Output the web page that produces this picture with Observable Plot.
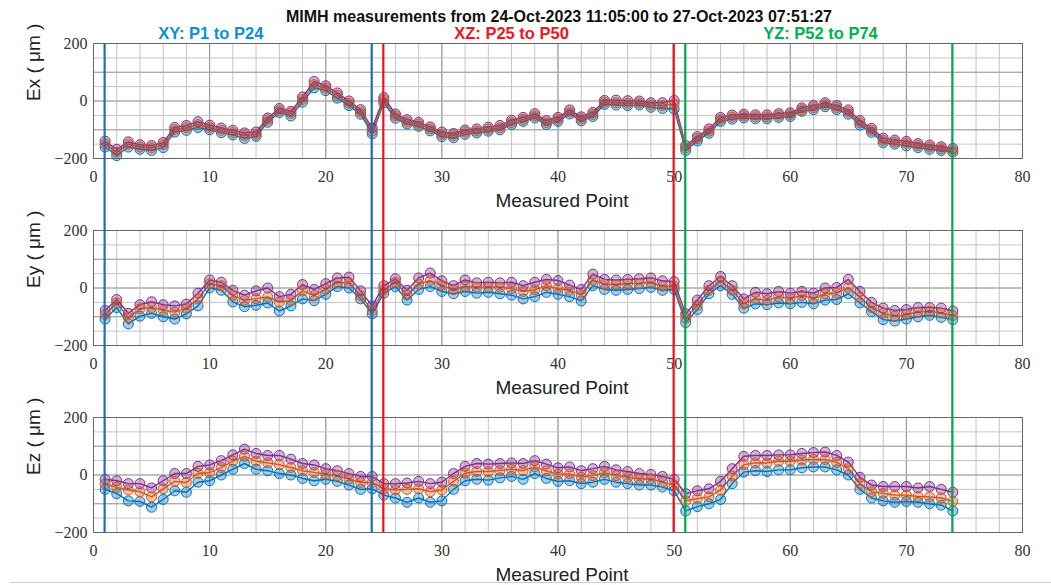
<!DOCTYPE html>
<html><head><meta charset="utf-8">
<script src="https://cdn.jsdelivr.net/npm/d3@7"></script>
<script src="https://cdn.jsdelivr.net/npm/@observablehq/plot@0.6"></script>
<style>
body{margin:0;background:#fff;}
#wrap{position:relative;width:1051px;height:585px;overflow:hidden;background:#fff;}
#title{position:absolute;top:7px;left:559px;transform:translateX(-50%);font:bold 16px "Liberation Sans",Arial,sans-serif;white-space:nowrap;color:#111;line-height:20px;z-index:2;}
#edge{position:absolute;left:10px;right:0;top:582px;height:1px;background:#cfcfcf;z-index:2;}
#wrap svg{position:absolute;left:0;top:0;}
#wrap svg g[aria-label="x-axis tick label"], #wrap svg g[aria-label="y-axis tick label"],
#wrap svg g[aria-label="x-axis tick label"] text, #wrap svg g[aria-label="y-axis tick label"] text{
  font-family:"Liberation Serif","DejaVu Serif",serif !important;font-size:16px !important;}
</style></head>
<body><div id="wrap"><div id="title"></div><div id="edge"></div></div>
<script>
// ---------- data ----------
const title = "MIMH measurements from 24-Oct-2023 11:05:00 to 27-Oct-2023 07:51:27";
const panels = ["Ex", "Ey", "Ez"];
const yLabels = ["Ex ( μm )", "Ey ( μm )", "Ez ( μm )"];
const xLabel = "Measured Point";
const xTicks = [0, 10, 20, 30, 40, 50, 60, 70, 80];
const yTicks = [-200, 0, 200];
const regionLabels = ["XY: P1 to P24", "XZ: P25 to P50", "YZ: P52 to P74"];
const regionBounds = [[1, 24], [25, 50], [51, 74]];
const runs = ["run 1", "run 2", "run 3"];

// Ex (µm) per measured point 1..74: low / middle / high edge of the measured band
const exLow = [-160,-190,-160,-168,-172,-162,-108,-102,-92,-100,-110,-118,-130,-123,-74,-40,-52,-4,46,36,10,-16,-46,-114,-6,-60,-80,-88,-104,-124,-128,-116,-111,-105,-100,-82,-71,-59,-82,-71,-45,-69,-54,-12,-14,-16,-14,-22,-26,-28,-172,-139,-112,-71,-63,-59,-62,-62,-57,-54,-36,-30,-20,-30,-46,-84,-109,-145,-150,-156,-162,-168,-172,-178];
const exMid = [-150,-178,-150,-160,-163,-152,-100,-93,-82,-92,-102,-110,-120,-116,-66,-33,-43,5,57,45,20,-8,-38,-105,4,-52,-73,-81,-97,-116,-120,-108,-104,-98,-93,-75,-64,-52,-75,-64,-38,-62,-47,-5,-6,-8,-7,-14,-16,-10,-163,-131,-105,-64,-56,-52,-55,-55,-50,-47,-30,-23,-13,-23,-38,-76,-102,-137,-143,-147,-155,-160,-166,-172];
const exHigh = [-140,-168,-142,-152,-155,-144,-92,-85,-72,-84,-94,-102,-111,-108,-59,-26,-36,14,68,53,28,0,-30,-94,12,-45,-65,-74,-90,-108,-113,-101,-97,-91,-85,-67,-57,-44,-68,-57,-31,-55,-40,2,3,1,0,-6,-6,2,-155,-124,-97,-57,-49,-46,-48,-48,-44,-41,-24,-16,-6,-16,-31,-68,-95,-129,-136,-140,-148,-153,-159,-165];

// Ey (µm)
const eyLow = [-108,-68,-125,-98,-88,-100,-108,-90,-62,0,-8,-48,-65,-60,-52,-80,-62,-38,-44,-22,5,0,-38,-90,-18,5,-42,-5,5,-12,-20,-12,-18,-15,-20,-25,-38,-30,-15,-22,-30,-45,8,-5,-8,-5,-2,2,-8,-5,-120,-75,-20,8,-22,-70,-55,-58,-52,-55,-50,-55,-42,-40,-20,-52,-82,-110,-115,-108,-100,-95,-102,-110];
const eyMid = [-92,-52,-103,-72,-68,-78,-84,-70,-38,15,8,-26,-43,-37,-31,-49,-43,-10,-26,-4,20,17,-26,-78,-6,20,-24,14,26,9,-6,6,3,3,3,-2,-12,-6,8,-2,-8,-24,28,13,12,15,16,20,6,6,-105,-60,-8,24,-8,-55,-37,-43,-30,-37,-26,-36,-20,-18,2,-32,-68,-88,-98,-92,-84,-81,-87,-96];
const eyHigh = [-78,-40,-88,-58,-48,-58,-62,-56,-18,28,20,-8,-25,-10,0,-30,-22,12,-5,15,35,38,-10,-62,8,32,-8,35,52,25,8,28,18,20,18,20,8,20,30,26,10,-5,48,30,28,30,32,35,25,22,-90,-42,8,40,8,-38,-15,-20,-12,-18,-12,-18,0,2,30,-12,-50,-70,-78,-75,-68,-68,-70,-80];

// Ez (µm)
const ezLow = [-50,-65,-90,-92,-112,-85,-55,-60,-25,-20,0,20,40,20,15,5,0,-12,-20,-15,-22,-35,-50,-48,-70,-80,-95,-80,-95,-90,-50,-20,-15,-18,-10,-5,-15,5,-12,-22,-20,-30,-25,-15,-25,-30,-35,-35,-42,-55,-125,-110,-100,-85,-30,10,15,12,18,18,25,28,28,18,0,-50,-80,-90,-95,-92,-95,-100,-105,-125];
const ezMid = [-31,-43,-52,-58,-76,-48,-22,-26,6,8,26,48,65,48,42,36,26,15,9,3,-2,-14,-26,-26,-48,-52,-50,-48,-58,-52,-22,6,12,12,16,20,15,28,14,3,4,-8,-2,8,-2,-8,-14,-14,-24,-36,-90,-82,-76,-52,-4,36,42,42,48,48,52,54,54,44,22,-30,-58,-64,-70,-70,-75,-76,-80,-92];
const ezHigh = [-15,-20,-30,-30,-45,-20,5,5,30,35,50,70,90,75,68,68,55,40,35,22,15,5,-5,-5,-30,-30,-28,-22,-30,-25,5,30,40,38,40,42,40,50,38,25,28,15,22,30,18,12,5,2,-5,-15,-65,-55,-48,-22,22,65,68,68,70,70,75,78,80,68,45,-8,-35,-40,-40,-40,-45,-40,-50,-60];

(function () {
// ---------- styles ----------
const runColors = ["#0072BD", "#7E2F8E", "#D95319"];
const lineColors = ["#1f6fb5", "#e8141c", "#00a84f"];
const labelColors = ["#0b8fd3", "#f0161e", "#00b050"];
const sans = "'Liberation Sans', Arial, Helvetica, sans-serif";
const serif = "'Liberation Serif', 'DejaVu Serif', serif";

// ---------- table ----------
const seriesByPanel = {
  Ex: [exLow, exHigh, exMid],
  Ey: [eyLow, eyHigh, eyMid],
  Ez: [ezLow, ezHigh, ezMid]
};
const rows = [];
for (const p of panels) {
  seriesByPanel[p].forEach((arr, r) => {
    arr.forEach((v, i) => rows.push({panel: p, run: runs[r], point: i + 1, value: v}));
  });
}
const labelRows = panels.map((p, i) => ({panel: p, label: yLabels[i]}));
const regionRows = regionLabels.map((t, i) => ({panel: "Ex", label: t, color: labelColors[i], x: [10.1, 36.0, 62.6][i]}));

document.getElementById("title").textContent = title;

const marginTop = 43, marginBottom = 52, marginLeft = 93, marginRight = 29;

const plot = Plot.plot({
  width: 1051,
  height: 585,
  marginTop, marginBottom, marginLeft, marginRight,
  style: {fontFamily: serif, fontSize: "16px", background: "transparent", color: "#222"},
  x: {domain: [0, 80]},
  y: {domain: [-200, 200]},
  fy: {domain: panels, paddingInner: 0.384, paddingOuter: 0, axis: null, label: null},
  color: {domain: runs, range: runColors},
  marks: [
    Plot.gridX(d3.range(0, 81, 2), {stroke: "#c4c4c4", strokeOpacity: 1, strokeWidth: 1, facetAnchor: null}),
    Plot.gridX(xTicks, {stroke: "#959595", strokeOpacity: 1, strokeWidth: 1, facetAnchor: null}),
    Plot.gridY(d3.range(-200, 201, 50), {stroke: "#c4c4c4", strokeOpacity: 1, strokeWidth: 1, facetAnchor: null}),
    Plot.gridY(d3.range(-200, 201, 100), {stroke: "#a0a0a0", strokeOpacity: 1, strokeWidth: 1, facetAnchor: null}),
    Plot.frame({stroke: "#666", strokeWidth: 1}),
    Plot.axisX(xTicks, {tickSize: 0, tickPadding: 12, label: null, facetAnchor: null, fontSize: 16, fontFamily: serif, fill: "#333"}),
    Plot.axisY(yTicks, {tickSize: 0, tickPadding: 6, label: null, facetAnchor: null, fontSize: 16, fontFamily: serif, fill: "#333",
      tickFormat: d => d < 0 ? "\u2212" + Math.abs(d) : String(d)}),
    Plot.line(rows, {x: "point", y: "value", z: "run", stroke: "run", strokeWidth: 1.4, fy: "panel"}),
    Plot.dot(rows, {x: "point", y: "value", stroke: "run", fill: "run", fillOpacity: 0.35, r: 5, strokeWidth: 1, fy: "panel"}),
    Plot.text(labelRows, {fy: "panel", text: "label", frameAnchor: "left", dx: -60, rotate: -90,
      fontFamily: sans, fontSize: 19, fill: "#222"}),
    Plot.text(labelRows, {fy: "panel", text: () => xLabel, frameAnchor: "bottom", lineAnchor: "middle", dy: 42, dx: 4,
      fontFamily: sans, fontSize: 19, fill: "#222"}),
    Plot.text(regionRows, {fy: "panel", x: "x", frameAnchor: "top", lineAnchor: "middle", dy: -10, text: "label", fill: "color",
      fontFamily: sans, fontSize: 16.5, fontWeight: "bold"})
  ]
});

document.getElementById("wrap").appendChild(plot);

// continuous section boundaries through all three panels
const xs = plot.scale("x");
const frames = plot.querySelectorAll('g[aria-label="frame"] rect, rect[aria-label="frame"]');
const svgBox = plot.getBoundingClientRect();
let yTop = marginTop, yBottom = 585 - marginBottom;
if (frames.length) {
  yTop = frames[0].getBoundingClientRect().top - svgBox.top;
  yBottom = frames[frames.length - 1].getBoundingClientRect().bottom - svgBox.top;
}
const verticals = regionBounds.flatMap((b, i) => b.map(v => ({v, color: lineColors[i]})));
d3.select(plot).append("g").attr("aria-label", "section boundaries")
  .selectAll("line").data(verticals).join("line")
  .attr("x1", d => xs.apply(d.v)).attr("x2", d => xs.apply(d.v))
  .attr("y1", yTop).attr("y2", yBottom)
  .attr("stroke", d => d.color).attr("stroke-width", 2.2);
})();
</script>
</body></html>
